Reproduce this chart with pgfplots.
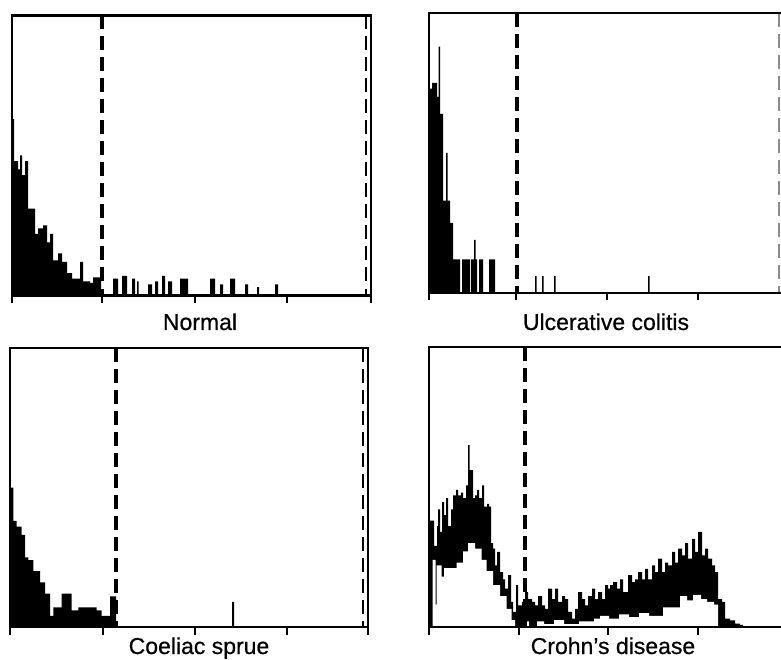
\documentclass[border=0pt]{standalone}
\usepackage{fontspec}
\setmainfont{Liberation Sans}
\usepackage{pgfplots}
\pgfplotsset{compat=1.18}
\pgfplotsset{
  panel/.style={
    scale only axis,
    height=280pt,
    ymin=0, ymax=100,
    ytick=\empty,
    xtick pos=left, xtick align=outside,
    major tick length=7.5pt,
    every tick/.style={black, line width=2.4pt},
    axis line style={line width=2.3pt},
    xticklabels={},
    axis on top,
  },
  hist/.style={fill=black, draw=none, const plot},
  whist/.style={fill=white, draw=none, const plot},
  gate/.style={black, line width=3.1pt, dash pattern=on 14pt off 7pt},
  edgegate/.style={black, line width=2.5pt, dash pattern=on 14pt off 7pt},
}
\begin{document}
\begin{tikzpicture}
\path[use as bounding box] (0,0) rectangle (781pt,659pt);
% ---------------- Normal ----------------
\begin{axis}[panel, at={(12pt,363.5pt)}, anchor=south west,
  width=359pt, xmin=0, xmax=359, xtick={0,90,183,275,359}]
\addplot[hist] coordinates {
 (0,63)(2,48)(6,45)(8,50)(10,43)(13,48)(16,31)(20,31)(23,22)(26,24)(31,25)(35,19)
 (38,22)(41,12.5)(46,15)(50,12)(55,8)(60,6)(68,12)(71,5)(78,4.5)(81,6.5)(89,0)
 (101,6)(106,0)(110,7)(115,0)(120,6)(123,0)(125,5)(126.5,0)(136,4)(140,0)
 (143,5)(146,0)(150,7)(153,0)(156,5)(160,0)(168,6)(176,0)(198,6)(203,0)
 (208,4)(211,0)(218,6)(223,0)(233,4)(236,0)(245,3)(247,0)(263,4)(266,0)(359,0)} \closedcycle;
\addplot[gate] coordinates {(90,100)(90,0)};
\addplot[edgegate] coordinates {(354,100)(354,0)};
\end{axis}
% ---------------- Ulcerative colitis ----------------
\begin{axis}[panel, at={(429pt,366pt)}, anchor=south west,
  width=353pt, xmin=0, xmax=353, xtick={0,87,178,269,353}]
\addplot[hist] coordinates {
 (0,73)(3,75)(8,70)(9.5,88)(11,64)(14,33)(17,50)(18.5,33)(21,25)(24,12)(31,0)
 (33,12)(41,0)(42,12)(45,19)(46.5,12)(48,0)(50,12)(54,0)(60,12)(66,0)
 (106,6)(107.5,0)(113,6)(114.5,0)(125,6)(126.5,0)(219,6)(220.5,0)(353,0)} \closedcycle;
\addplot[gate] coordinates {(88,100)(88,0)};
\addplot[black!45, line width=1.8pt, dash pattern=on 14pt off 7pt] coordinates {(350,100)(350,0)};
\end{axis}
% ---------------- Coeliac sprue ----------------
\begin{axis}[panel, at={(10pt,32pt)}, anchor=south west,
  width=358pt, height=279pt, xmin=0, xmax=358, xtick={0,93,185,277,358}]
\addplot[hist] coordinates {
 (0,50)(3.3,38)(6.7,36)(11.7,33)(15,25)(18.3,24)(23.3,20)(26.7,20)(30,16)(35,12)
 (40,4)(43.3,7)(51.7,12)(55,12)(61.7,6)(68.3,7)(78.3,7)(86.7,6)(91.7,4)(100,11)(106,0)
 (222,9)(224,0)(358,0)} \closedcycle;
\addplot[gate] coordinates {(106,100)(106,0)};
\addplot[edgegate] coordinates {(353,100)(353,0)};
\end{axis}
% ---------------- Crohn's disease ----------------
\begin{axis}[panel, at={(429pt,32pt)}, anchor=south west,
  width=353pt, xmin=0, xmax=353, xtick={0,90,179,269,353}]
\addplot[hist] coordinates {
 (0,38)(5,29)(8,36)(9,42)(11,34)(13,44.6)(15,40)(17,46)(19,36)(22,42)(24,47)(27,49)
 (29,47)(32,48)(34,46)(37,50.6)(39,65)(40.5,56)(44,46)(46,47)(48,49)(50,46)(53,50.6)
 (55,43)(58,44)(60,43)(62,30)(64,28)(66,22)(68,26.8)(71,19.6)(74,17)(76,13.7)(79,18.5)
 (82,9)(84,5.4)(87,15)(89,7.7)(93,9)(96,12.5)(99,10)(103,9)(106,7.7)(109,11)(113,7.7)
 (116,6.5)(119,13.7)(123,10)(126,13.7)(129,9)(133,11)(136,10)(139,5.4)(143,3)(146,6.5)
 (149,12.5)(153,10)(156,7.7)(159,11)(163,13.7)(166,10)(169,12.5)(173,10)(176,15)
 (179,13.7)(181,15)(184,16)(188,13.7)(191,17)(194,12.5)(199,18.5)(203,16)(206,17)
 (209,19.6)(213,17)(216,20.8)(219,17)(223,22)(226,19.6)(229,24.4)(233,19.6)(236,23)
 (239,22)(243,26.8)(246,23)(249,28)(253,25.6)(256,30)(259,24.4)(263,31.5)(266,26.8)
 (269,34)(273,25.6)(276,28)(279,24.4)(283,22)(286,19.6)(289,10)(293,9)(296,3)
 (301,2.4)(306,1.2)(311,0.8)(314,0)(353,0)} \closedcycle;
\addplot[whist] coordinates {
 (0,0)(3.7,24)(6.7,8)(7.7,22)(12.7,18)(15,21)(21,21)(27.7,23)(34,27)(39,30)(46,28)
 (52.7,24)(57.7,20)(64,15)(71,11)(77.7,6.5)(82.7,2.5)(86,0)
 (95,2)(100,0)(108,2)(115,1)(125,2.5)(135,1)(150,2)(165,3)(171,4)(180,3)(190,4.5)
 (200,3.5)(210,5)(220,4)(234,7)(251,11)(258,9.5)(264,11.5)(272,10)(278,9)
 (285,8)(289,0)(353,0)} \closedcycle;
\addplot[gate] coordinates {(96,100)(96,0)};
\end{axis}
% ---------------- labels ----------------
\begin{scope}[every node/.style={anchor=base, font=\fontsize{23}{27}\selectfont\addfontfeature{FakeBold=0.6}, inner sep=0pt}]
\node at (200pt,329pt) {Normal};
\node at (606pt,329pt) {Ulcerative colitis};
\node at (199pt,5pt) {Coeliac sprue};
\node at (613pt,5pt) {Crohn’s disease};
\end{scope}
\end{tikzpicture}
\end{document}
